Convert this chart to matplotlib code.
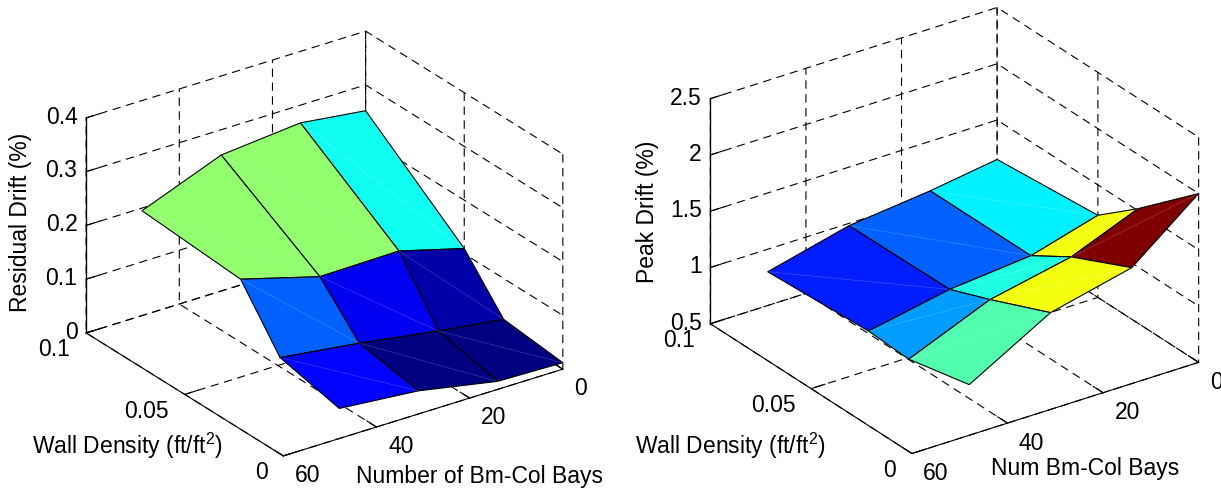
import matplotlib
matplotlib.use("Agg")
import matplotlib.pyplot as plt
import numpy as np
from matplotlib.colors import LinearSegmentedColormap

plt.rcParams["font.family"] = ["Liberation Sans", "DejaVu Sans"]
plt.rcParams["mathtext.default"] = "regular"
plt.rcParams["grid.color"] = "black"
plt.rcParams["grid.linewidth"] = 0.8
plt.rcParams["grid.linestyle"] = (0, (6, 4))
plt.rcParams["lines.scale_dashes"] = False

# matlab's old default colormap
jet = LinearSegmentedColormap.from_list("matlab_jet", [
    (0.0, (0, 0, 0.5)), (0.125, (0, 0, 1)), (0.375, (0, 1, 1)),
    (0.625, (1, 1, 0)), (0.875, (1, 0, 0)), (1.0, (0.5, 0, 0))])

bays = [0, 14, 31, 48]
density = [0, 0.03, 0.05, 0.1]

# rows follow density, columns follow bays
residual = [[0.012, 0.015, 0.043, 0.056],
            [0.024, 0.040, 0.063, 0.082],
            [0.110, 0.143, 0.141, 0.182],
            [0.252, 0.267, 0.253, 0.195]]
residual_colors = [[0.0, 0.0, 0.125],
                   [0.04, 0.11, 0.22],
                   [0.39, 0.516, 0.516]]

peak = [[2.00, 1.53, 1.36, 0.95],
        [1.52, 1.28, 1.13, 0.83],
        [1.23, 1.06, 0.99, 0.85],
        [1.15, 1.06, 0.98, 0.80]]
peak_colors = [[1.0, 0.61, 0.455],
               [0.61, 0.405, 0.28],
               [0.36, 0.22, 0.155]]

bay_ticks = [0, 20, 40, 60]
density_ticks = [0, 0.05, 0.1]
density_labels = ["0", "0.05", "0.1"]
residual_ticks = [0, 0.1, 0.2, 0.3, 0.4]
residual_labels = ["0", "0.1", "0.2", "0.3", "0.4"]
peak_ticks = [0.5, 1, 1.5, 2, 2.5]
peak_labels = ["0.5", "1", "1.5", "2", "2.5"]

W, H = 1221, 488
FS = 16.5
fig = plt.figure(figsize=(W / 100, H / 100), dpi=100)


def surface_panel(rect, z, colors, zticks, zlabels, elev, azim, aspect):
    ax = fig.add_axes([rect[0] / W, rect[1] / H, rect[2] / W, rect[2] / H],
                      projection="3d", computed_zorder=False)
    ax.patch.set_alpha(0)
    ax.set_proj_type("ortho")
    ax.view_init(elev=elev, azim=azim)
    ax.set_box_aspect((1, 1, aspect))
    X, Y = np.meshgrid(bays, density)
    Z = np.array(z)
    ax.plot_surface(X, Y, Z, facecolors=jet(np.array(colors)), shade=False,
                    edgecolor="black", linewidth=0.8, rstride=1, cstride=1, zorder=5)
    # faint seams where matlab split each quad in two triangles
    for i in range(3):
        for j in range(3):
            ax.plot([X[i + 1, j + 1], X[i, j]], [Y[i + 1, j + 1], Y[i, j]], [Z[i + 1, j + 1], Z[i, j]],
                    color="white", alpha=0.22, linewidth=0.5, zorder=6)
    # z axis line at the left corner
    ax.plot([60, 60], [0.1, 0.1], [zticks[0], zticks[-1]], color="black", linewidth=0.9, zorder=4)
    ax.set_xlim(60, 0, view_margin=0)
    ax.set_ylim(0, 0.1, view_margin=0)
    ax.set_zlim(zticks[0], zticks[-1], view_margin=0)
    ax.set_xticks(bay_ticks)
    ax.set_yticks(density_ticks)
    ax.set_yticklabels(density_labels)
    ax.set_zticks(zticks)
    ax.set_zticklabels(zlabels)
    ax.tick_params(labelsize=FS)
    ax.tick_params(axis="y", pad=3)
    ax.tick_params(axis="z", pad=-4.4)
    ax.zaxis.set_ticks_position("upper")
    plt.setp(ax.get_xticklabels(), ha="left", va="center")
    plt.setp(ax.get_yticklabels(), ha="right", va="center")
    plt.setp(ax.get_zticklabels(), ha="right", va="center")
    for axis in (ax.xaxis, ax.yaxis, ax.zaxis):
        axis.pane.set_facecolor((1, 1, 1, 0))
        axis.pane.set_edgecolor((1, 1, 1, 0))
        axis.line.set_color("black")
        axis.line.set_linewidth(0.8)
        axis._axinfo["tick"]["inward_factor"] = 0
        axis._axinfo["tick"]["outward_factor"] = 0.6
        axis._axinfo["tick"]["linewidth"] = {True: 0.8, False: 0.5}
    return ax


surface_panel((55.4, -24.6, 524), residual, residual_colors, residual_ticks, residual_labels,
              26.1, 234.8, 0.70)
surface_panel((677.2, -19.8, 540), peak, peak_colors, peak_ticks, peak_labels,
              26.9, 234.9, 0.72)


def label(px, py, text, **kw):
    fig.text(px / W, 1 - py / H, text, fontsize=FS, ha="center", va="center", **kw)


label(21, 222, "Residual Drift (%)", rotation=90)
label(127, 446, "Wall Density (ft/ft$^2$)")
label(479, 477, "Number of Bm-Col Bays")
label(648, 212, "Peak Drift (%)", rotation=90)
label(730, 446, "Wall Density (ft/ft$^2$)")
label(1085, 468, "Num Bm-Col Bays")

fig.savefig("out.png", dpi=100)
